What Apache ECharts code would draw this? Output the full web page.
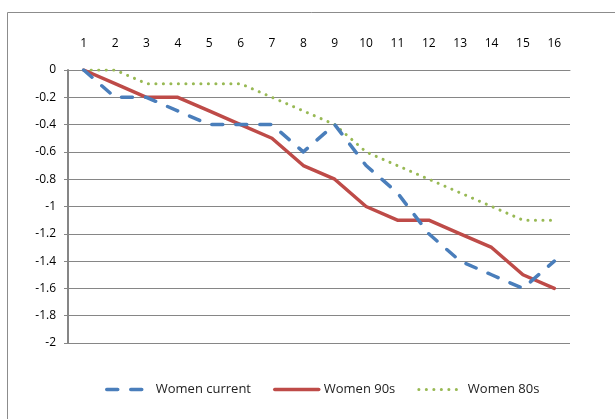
<!DOCTYPE html>
<html>
<head>
<meta charset="utf-8">
<script src="https://cdn.jsdelivr.net/npm/echarts@6/dist/echarts.min.js"></script>
<style>
  html, body { margin: 0; padding: 0; background: #fff; }
  #chart { width: 615px; height: 419px; }
</style>
</head>
<body>
<div id="chart"></div>
<script>
// Positions along the course
const categories = ['1','2','3','4','5','6','7','8','9','10','11','12','13','14','15','16'];

// Series values
const womenCurrent = [0, -0.2, -0.2, -0.3, -0.4, -0.4, -0.4, -0.6, -0.4, -0.7, -0.9, -1.2, -1.4, -1.5, -1.6, -1.4];
const women90s     = [0, -0.1, -0.2, -0.2, -0.3, -0.4, -0.5, -0.7, -0.8, -1.0, -1.1, -1.1, -1.2, -1.3, -1.5, -1.6];
const women80s     = [0, 0, -0.1, -0.1, -0.1, -0.1, -0.2, -0.3, -0.4, -0.6, -0.7, -0.8, -0.9, -1.0, -1.1, -1.1];

const seriesNames = ['Women current', 'Women 90s', 'Women 80s'];

const axisGray = '#868686';
const fontFamily = '"Open Sans", "Noto Sans", sans-serif';

const chart = echarts.init(document.getElementById('chart'), null, { renderer: 'canvas' });

chart.setOption({
  animation: false,
  backgroundColor: '#fff',
  textStyle: { fontFamily: fontFamily },
  graphic: [{
    type: 'rect',
    shape: { x: 7.5, y: 12.5, width: 700, height: 500 },
    style: { fill: 'none', stroke: '#8c8c8c', lineWidth: 1 },
    silent: true
  }],
  grid: { left: 68, top: 70, width: 502, height: 273, containLabel: false },
  legend: {
    left: 100,
    top: 378,
    itemWidth: 44,
    itemHeight: 14,
    itemGap: 22,
    itemStyle: { opacity: 0 },
    lineStyle: { width: 'inherit' },
    textStyle: { fontSize: 13, color: '#222', fontFamily: fontFamily },
    data: seriesNames
  },
  xAxis: {
    type: 'category',
    position: 'top',
    data: categories,
    boundaryGap: true,
    axisLine: { lineStyle: { color: axisGray, width: 1 } },
    axisTick: { inside: true, length: 5, lineStyle: { color: axisGray } },
    axisLabel: { margin: 20, fontSize: 12, color: '#000' },
    splitLine: { show: false }
  },
  yAxis: {
    type: 'value',
    min: -2,
    max: 0,
    interval: 0.2,
    axisLine: { show: true, lineStyle: { color: axisGray, width: 2 } },
    axisTick: { show: true, inside: false, length: 4, lineStyle: { color: axisGray } },
    axisLabel: { margin: 12, fontSize: 12, color: '#000' },
    splitLine: { show: true, lineStyle: { color: axisGray, width: 1 } }
  },
  series: [
    {
      name: seriesNames[0],
      type: 'line',
      data: womenCurrent,
      symbol: 'none',
      color: '#4A7EBB',
      itemStyle: { opacity: 0 },
      lineStyle: { color: '#4A7EBB', width: 3.5, type: [11, 13], cap: 'round', join: 'round' },
      z: 3
    },
    {
      name: seriesNames[1],
      type: 'line',
      data: women90s,
      symbol: 'none',
      color: '#BE4B48',
      itemStyle: { opacity: 0 },
      lineStyle: { color: '#BE4B48', width: 3.5, type: 'solid', cap: 'round', join: 'round' },
      z: 2
    },
    {
      name: seriesNames[2],
      type: 'line',
      data: women80s,
      symbol: 'none',
      color: '#98B954',
      itemStyle: { opacity: 0 },
      lineStyle: { color: '#98B954', width: 3, type: [0.1, 7.4], cap: 'round', join: 'round' },
      z: 1
    }
  ]
});
</script>
</body>
</html>
